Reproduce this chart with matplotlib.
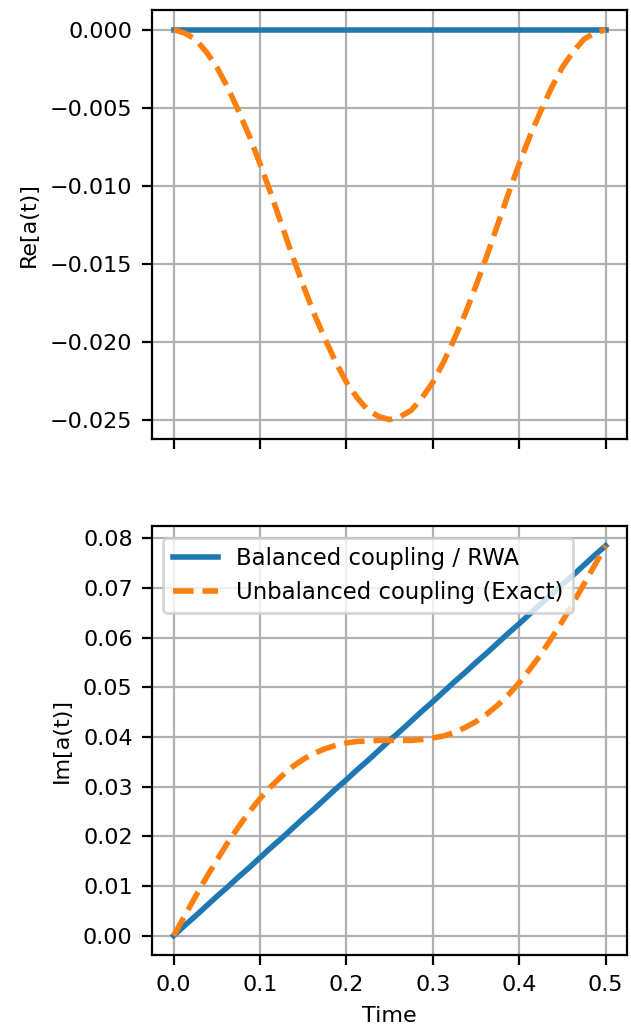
import matplotlib.pyplot as plt

plt.rcParams['font.size'] = 8

# time samples
t = [0.0, 0.0125, 0.025, 0.0375, 0.05, 0.0625, 0.075, 0.0875, 0.1, 0.1125,
     0.125, 0.1375, 0.15, 0.1625, 0.175, 0.1875, 0.2, 0.2125, 0.225, 0.2375,
     0.25, 0.2625, 0.275, 0.2875, 0.3, 0.3125, 0.325, 0.3375, 0.35, 0.3625,
     0.375, 0.3875, 0.4, 0.4125, 0.425, 0.4375, 0.45, 0.4625, 0.475, 0.4875, 0.5]

# real part
re_rwa = [0.0] * 41
re_exact = [0.0, -0.0002, -0.0006, -0.0014, -0.0024, -0.0037, -0.0052, -0.0068, -0.0086, -0.0105,
            -0.0125, -0.0145, -0.0164, -0.0182, -0.0198, -0.0213, -0.0226, -0.0236, -0.0244, -0.0248,
            -0.0250,
            -0.0248, -0.0244, -0.0236, -0.0226, -0.0213, -0.0198, -0.0182, -0.0164, -0.0145,
            -0.0125, -0.0105, -0.0086, -0.0068, -0.0052, -0.0037, -0.0024, -0.0014, -0.0006, -0.0002, 0.0]

# imaginary part
im_rwa = [0.0, 0.0020, 0.0039, 0.0059, 0.0079, 0.0098, 0.0118, 0.0137, 0.0157, 0.0177,
          0.0196, 0.0216, 0.0236, 0.0255, 0.0275, 0.0295, 0.0314, 0.0334, 0.0353, 0.0373,
          0.0393, 0.0412, 0.0432, 0.0452, 0.0471, 0.0491, 0.0511, 0.0530, 0.0550, 0.0569,
          0.0589, 0.0609, 0.0628, 0.0648, 0.0668, 0.0687, 0.0707, 0.0726, 0.0746, 0.0766, 0.0785]
im_exact = [0.0, 0.0039, 0.0078, 0.0116, 0.0152, 0.0187, 0.0219, 0.0249, 0.0276, 0.0300,
            0.0321, 0.0340, 0.0355, 0.0367, 0.0376, 0.0383, 0.0388, 0.0391, 0.0392, 0.0393,
            0.0393, 0.0393, 0.0393, 0.0395, 0.0398, 0.0402, 0.0409, 0.0419, 0.0431, 0.0446,
            0.0464, 0.0485, 0.0509, 0.0537, 0.0566, 0.0599, 0.0633, 0.0670, 0.0708, 0.0746, 0.0785]

fig, (ax1, ax2) = plt.subplots(2, 1, sharex=True, figsize=(631 / 200, 1027 / 200), dpi=200)
fig.subplots_adjust(left=0.241, right=0.994, top=0.990, bottom=0.070, hspace=0.203)

ax1.plot(t, re_rwa, lw=2, label='Balanced coupling / RWA')
ax1.plot(t, re_exact, '--', lw=2, label='Unbalanced coupling (Exact)')
ax1.set_ylabel('Re[a(t)]')
ax1.grid()

ax2.plot(t, im_rwa, lw=2, label='Balanced coupling / RWA')
ax2.plot(t, im_exact, '--', lw=2, label='Unbalanced coupling (Exact)')
ax2.set_ylabel('Im[a(t)]')
ax2.set_xlabel('Time')
ax2.legend(loc='upper left', fontsize=8.2)
ax2.grid()

plt.savefig('out.png', dpi=200)
